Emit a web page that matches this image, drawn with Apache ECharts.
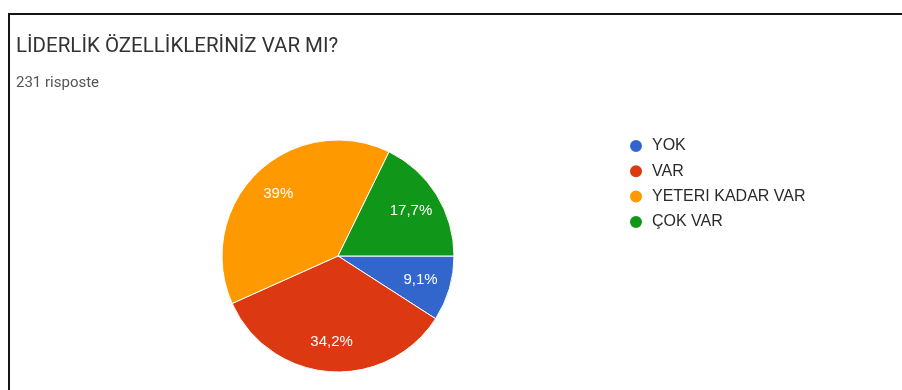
<!DOCTYPE html>
<html>
<head>
<meta charset="utf-8">
<script src="https://cdn.jsdelivr.net/npm/echarts@6/dist/echarts.min.js"></script>
<style>
  html, body { margin: 0; padding: 0; background: #fff; }
  #chart { width: 902px; height: 390px; }
</style>
</head>
<body>
<div id="chart"></div>
<script>
// Survey question and answers
const questionTitle = 'LİDERLİK ÖZELLİKLERİNİZ VAR MI?';
const categories = ['YOK', 'VAR', 'YETERI KADAR VAR', 'ÇOK VAR'];
const responses = [21, 79, 90, 41];
const sliceColors = ['#3366cc', '#dc3912', '#ff9900', '#109618'];

const total = responses.reduce((a, b) => a + b, 0);
const pieData = categories.map((name, i) => ({
  name: name,
  value: responses[i],
  itemStyle: { color: sliceColors[i] }
}));

// Percent text with comma decimal, trailing ",0" dropped
function pctLabel(v) {
  let s = (v / total * 100).toFixed(1);
  if (s.endsWith('.0')) s = s.slice(0, -2);
  return s.replace('.', ',') + '%';
}

const center = [338, 256];
const radius = 116;

const chart = echarts.init(document.getElementById('chart'), null, { renderer: 'canvas' });
chart.setOption({
  animation: false,
  backgroundColor: '#fff',
  title: [
    {
      text: questionTitle,
      left: 11, top: 31,
      textStyle: { fontFamily: 'Roboto', fontSize: 20.5, fontWeight: 'normal', color: '#333' }
    },
    {
      text: total + ' risposte',
      left: 11, top: 71,
      textStyle: { fontFamily: 'Roboto', fontSize: 15, fontWeight: 'normal', color: '#555' }
    }
  ],
  legend: {
    orient: 'vertical',
    left: 623, top: 133,
    icon: 'circle',
    itemWidth: 14, itemHeight: 14,
    itemGap: 9.3,
    data: categories,
    textStyle: { fontFamily: 'Arial, "Liberation Sans"', fontSize: 16, color: '#2a2a2a', padding: [0, 0, 0, 4] }
  },
  graphic: [
    {
      type: 'polyline',
      shape: { points: [[9, 390], [9, 14], [902, 14]] },
      style: { stroke: '#151515', lineWidth: 2, fill: null }
    }
  ],
  series: [
    {
      type: 'pie',
      center: center,
      radius: radius,
      startAngle: 0,
      clockwise: true,
      label: { show: false },
      labelLine: { show: false },
      itemStyle: { borderColor: '#fff', borderWidth: 1 },
      emphasis: { scale: false },
      data: pieData
    },
    {
      // transparent twin so the percent labels sit further out than mid-radius
      type: 'pie',
      center: center,
      radius: 166,
      startAngle: 0,
      clockwise: true,
      silent: true,
      itemStyle: { color: 'transparent', borderWidth: 0 },
      label: {
        show: true,
        position: 'inside',
        color: '#fff',
        fontFamily: 'Arial, "Liberation Sans"',
        fontSize: 15,
        formatter: p => pctLabel(p.value)
      },
      labelLine: { show: false },
      data: categories.map((name, i) => ({ name: name, value: responses[i] }))
    }
  ]
});
</script>
</body>
</html>
